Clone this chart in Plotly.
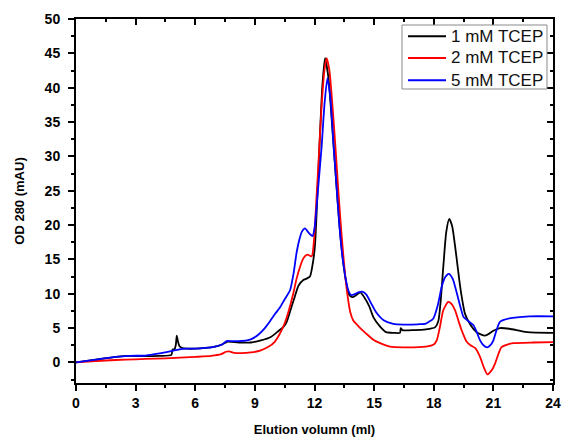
import plotly.graph_objects as go

# ---- Data ----
vol_1mM = [0, 1, 2, 2.7, 3.5, 4.2, 4.8, 4.86, 4.95, 5.02, 5.07, 5.12, 5.2, 5.35, 5.6, 6.0, 6.5, 7.0, 7.35,
           7.6, 7.8, 8.2, 8.8, 9.3, 9.8, 10.2, 10.45, 10.6, 10.77, 11.0, 11.2, 11.44, 11.6, 11.77, 11.94,
           12.03, 12.14, 12.24, 12.4, 12.53, 12.7, 12.85, 13.0, 13.15, 13.3, 13.45, 13.6, 13.75, 13.9,
           14.1, 14.3, 14.5, 14.75, 14.96, 15.3, 15.6, 16.0, 16.3, 16.34, 16.42, 17.0, 17.6, 18.06,
           18.23, 18.35, 18.48, 18.63, 18.78, 18.93, 19.07, 19.2, 19.32, 19.45, 19.57, 19.82, 20.16,
           20.58, 21.0, 21.33, 21.8, 22.7, 24]
od_1mM = [0, 0.4, 0.8, 0.95, 0.9, 0.95, 1.1, 1.9, 1.9, 2.5, 3.9, 3.2, 2.4, 2.1, 2.0, 2.0, 2.1, 2.3, 2.6,
          3.0, 3.0, 2.9, 2.9, 3.2, 3.7, 4.6, 5.2, 5.9, 7.4, 9.5, 11.2, 12.0, 12.2, 12.5, 14.9,
          17.3, 24.0, 30.9, 40.5, 44.3, 41.5, 36.0, 30.0, 24.0, 18.5, 14.5, 11.5, 9.8, 9.5,
          9.8, 10.2, 9.5, 8.2, 6.6, 5.2, 4.4, 4.3, 4.3, 5.0, 4.7, 4.7, 4.8, 5.1,
          6.0, 9.0, 13.9, 19.0, 20.9, 19.8, 17.0, 14.0, 11.2, 8.8, 7.1, 5.6, 4.4,
          3.9, 4.6, 5.0, 4.9, 4.4, 4.3]

vol_2mM = [0, 1, 2, 3, 4, 5, 6, 6.8, 7.3, 7.55, 7.7, 7.95, 8.3, 8.8, 9.3, 9.7, 10.0, 10.26, 10.5, 10.7,
           10.93, 11.1, 11.27, 11.45, 11.64, 11.86, 11.98, 12.1, 12.2, 12.35, 12.5, 12.61, 12.75, 12.9,
           13.05, 13.2, 13.35, 13.5, 13.65, 13.8, 13.95, 14.1, 14.3, 14.6, 14.96, 15.3, 15.8, 16.5,
           17.6, 18.0, 18.15, 18.3, 18.48, 18.73, 18.9, 19.07, 19.25, 19.4, 19.66, 19.85, 20.08, 20.33,
           20.5, 20.7, 20.9, 21.08, 21.25, 21.4, 21.7, 22.0, 23.0, 24]
od_2mM = [0, 0.2, 0.35, 0.45, 0.55, 0.65, 0.8, 0.95, 1.2, 1.55, 1.6, 1.4, 1.35, 1.45, 1.75, 2.3, 3.0, 4.2, 5.7, 7.5,
          10.0, 12.2, 13.9, 15.2, 15.7, 15.45, 18.0, 24.0, 29.0, 37.0, 42.5, 44.3, 42.5, 37.5,
          31.5, 25.0, 19.0, 14.0, 10.0, 7.3, 6.1, 5.6, 5.0, 4.2, 3.3, 2.8, 2.3, 2.2,
          2.3, 2.6, 3.2, 5.0, 7.6, 8.8, 8.5, 7.6, 6.0, 4.7, 3.0, 2.5, 2.1, 0.8,
          -0.6, -1.75, -1.2, -0.2, 1.2, 2.2, 2.6, 2.8, 2.9, 2.95]

vol_5mM = [0, 1, 2, 2.7, 3.5, 4.2, 4.73, 5.2, 5.6, 6.0, 6.5, 7.0, 7.35, 7.58, 7.8, 8.2, 8.6, 8.9, 9.2, 9.5,
           9.76, 10.0, 10.26, 10.5, 10.77, 10.95, 11.1, 11.25, 11.36, 11.52, 11.7, 11.9, 12.0, 12.1,
           12.2, 12.36, 12.5, 12.65, 12.8, 12.95, 13.1, 13.25, 13.4, 13.55, 13.7, 13.85, 14.0, 14.2,
           14.4, 14.6, 14.85, 15.1, 15.5, 15.96, 16.5, 17.2, 17.6, 17.98, 18.2, 18.4, 18.55, 18.75,
           18.95, 19.15, 19.35, 19.5, 19.75, 20.0, 20.15, 20.33, 20.5, 20.7, 20.85, 21.0, 21.15,
           21.33, 21.8, 22.8, 24]
od_5mM = [0, 0.4, 0.8, 0.95, 1.0, 1.3, 1.6, 1.9, 2.0, 2.0, 2.1, 2.3, 2.6, 3.1, 3.1, 3.1, 3.2, 3.5, 4.1, 5.0,
          6.0, 7.0, 8.0, 9.2, 10.5, 13.0, 16.0, 18.0, 19.0, 19.5, 18.9, 18.4, 19.5, 22.5,
          26.0, 31.5, 37.5, 41.4, 38.5, 32.0, 26.0, 20.0, 15.5, 12.5, 10.5, 9.8, 9.9, 10.2,
          10.3, 9.9, 8.6, 7.3, 6.1, 5.6, 5.5, 5.55, 5.65, 6.4, 8.3, 11.0, 12.3, 12.9,
          12.2, 10.2, 8.0, 6.6, 6.0, 5.4, 4.5, 3.2, 2.5, 2.2, 2.5, 3.2, 4.6,
          5.9, 6.4, 6.7, 6.7]

series_names = ["1 mM TCEP", "2 mM TCEP", "5 mM TCEP"]
x_ticks = [0, 3, 6, 9, 12, 15, 18, 21, 24]
y_ticks = [0, 5, 10, 15, 20, 25, 30, 35, 40, 45, 50]

colors = ["#000000", "#ff0000", "#0000ff"]
FONT = "Liberation Sans, Arial, sans-serif"

fig = go.Figure()
for name, xs, ys, c in zip(series_names, [vol_1mM, vol_2mM, vol_5mM], [od_1mM, od_2mM, od_5mM], colors):
    fig.add_trace(go.Scatter(x=xs, y=ys, mode="lines", name=name, showlegend=False,
                             line=dict(color=c, width=1.8, shape="spline", smoothing=0.6)))

# invisible trace to activate mirror axes (top/right, inward ticks)
fig.add_trace(go.Scatter(x=[0], y=[0], xaxis="x2", yaxis="y2", mode="markers",
                         marker=dict(opacity=0), showlegend=False, hoverinfo="skip"))

# ---- Legend box drawn in paper coordinates (compact, like the original) ----
box_x0, box_x1, box_y0, box_y1 = 0.6834, 0.9874, 0.8077, 0.9835
line_x0, line_x1, text_x = 0.696, 0.7757, 0.781
row_y = [0.9525, 0.8929, 0.8316]
shapes = [dict(type="rect", xref="paper", yref="paper", x0=box_x0, x1=box_x1, y0=box_y0, y1=box_y1,
               line=dict(color="#8a8a8a", width=1), fillcolor="white", layer="above")]
annotations = []
for name, c, ry in zip(series_names, colors, row_y):
    shapes.append(dict(type="line", xref="paper", yref="paper", x0=line_x0, x1=line_x1, y0=ry, y1=ry,
                       line=dict(color=c, width=2), layer="above"))
    annotations.append(dict(xref="paper", yref="paper", x=text_x, y=ry, text=name, showarrow=False,
                            xanchor="left", yanchor="middle",
                            font=dict(size=17, family=FONT, color="#111")))

axis_common = dict(showgrid=False, zeroline=False, showline=True, linecolor="black", linewidth=2,
                   tickcolor="black", tickwidth=1.5, automargin=False)

fig.update_layout(
    width=562, height=437,
    margin=dict(l=76, r=9, t=19, b=54, autoexpand=False),
    paper_bgcolor="white", plot_bgcolor="white",
    font=dict(family=FONT, color="black"),
    shapes=shapes, annotations=annotations,
    xaxis=dict(range=[0, 24], tickmode="array", tickvals=x_ticks, ticks="outside", ticklen=6,
               minor=dict(dtick=1.5, tick0=0, ticks="outside", ticklen=3, tickcolor="black", tickwidth=1.5),
               tickfont=dict(size=14, family=FONT, weight="bold"),
               title=dict(text="<b>Elution volumn (ml)</b>", font=dict(size=13, family=FONT), standoff=18),
               **axis_common),
    yaxis=dict(range=[-3, 50], tickmode="array", tickvals=y_ticks, ticks="outside", ticklen=6,
               minor=dict(dtick=2.5, tick0=0, ticks="outside", ticklen=3, tickcolor="black", tickwidth=1.5),
               tickfont=dict(size=14, family=FONT, weight="bold"), ticklabelstandoff=5,
               title=dict(text="<b>OD 280 (mAU)</b>", font=dict(size=13, family=FONT), standoff=17),
               **axis_common),
    xaxis2=dict(range=[0, 24], overlaying="x", side="top", tickmode="array", tickvals=x_ticks,
                ticks="inside", ticklen=6, showticklabels=False,
                minor=dict(dtick=1.5, tick0=0, ticks="inside", ticklen=3, tickcolor="black", tickwidth=1.5),
                **axis_common),
    yaxis2=dict(range=[-3, 50], overlaying="y", side="right", tickmode="array", tickvals=y_ticks,
                ticks="inside", ticklen=6, showticklabels=False,
                minor=dict(dtick=2.5, tick0=0, ticks="inside", ticklen=3, tickcolor="black", tickwidth=1.5),
                **axis_common),
    showlegend=False,
)

fig.write_html("out.html", config={"displayModeBar": False},
               post_script="document.body.style.margin='0';document.body.style.overflow='hidden';")
